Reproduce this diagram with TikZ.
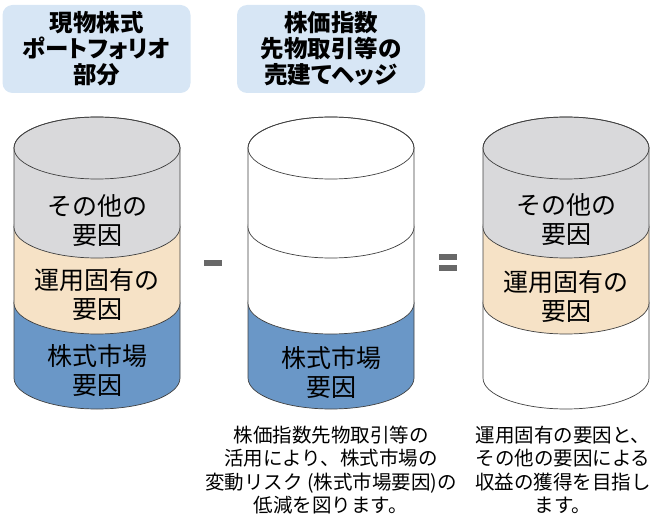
\documentclass[tikz,border=0pt]{standalone}
\usepackage{fontspec}
\setmainfont{Noto Sans CJK JP}
\newfontfamily\headfont[RawFeature=+palt]{Noto Sans CJK JP}
\definecolor{layergray}{HTML}{D9D9DB}
\definecolor{layerbeige}{HTML}{F6E2C6}
\definecolor{layerblue}{HTML}{6A97C7}
\definecolor{headblue}{HTML}{D7E6F5}
\definecolor{opgray}{HTML}{686868}
\tikzset{
  layer/.style={draw=black!75, line width=0.7pt},
  cyltext/.style={font=\fontsize{25}{29}\selectfont, align=center, inner sep=0pt},
  headbox/.style={fill=headblue, rounded corners=10pt, minimum width=188pt, minimum height=88pt, inner sep=0pt, align=center, font=\headfont\bfseries\fontsize{23.5}{26}\selectfont},
  note/.style={font=\fontsize{19.5}{23.3}\selectfont, align=center, inner sep=0pt},
  opbar/.style={fill=opgray, draw=none}
}
\newcommand\cylband[4]{% x, ytop, ybot, fill
  \path[layer, fill=#4] ({#1-83},#2) -- ({#1-83},#3)
    arc[start angle=180, end angle=360, x radius=83pt, y radius=31pt]
    -- ({#1+83},#2)
    arc[start angle=0, end angle=180, x radius=83pt, y radius=31pt] -- cycle;
}
\newcommand\cylcap[1]{%
  \draw[layer] (#1,383) ellipse[x radius=83pt, y radius=31pt];
}
\begin{document}
\begin{tikzpicture}[x=1pt,y=1pt]
\useasboundingbox (0,0) rectangle (661,531);
% headers
\node[headbox] (h1) at (96.5,482) {現物株式\\ポートフォリオ\\部分};
\node[headbox] (h2) at (331,482) {株価指数\\先物取引等の\\売建てヘッジ};
% left cylinder
\cylband{97}{228}{153}{layerblue}
\cylband{97}{304}{228}{layerbeige}
\cylband{97}{383}{304}{layergray}
\cylcap{97}
\node[cyltext] (l1) at (97,310) {その他の\\要因};
\node[cyltext] (l2) at (97,236) {運用固有の\\要因};
\node[cyltext] (l3) at (97,161) {株式市場\\要因};
% middle cylinder
\cylband{331}{228}{153}{layerblue}
\cylband{331}{304}{228}{white}
\cylband{331}{383}{304}{white}
\cylcap{331}
\node[cyltext] (m3) at (331,159) {株式市場\\要因};
% right cylinder
\cylband{566}{228}{153}{white}
\cylband{566}{304}{228}{layerbeige}
\cylband{566}{383}{304}{layergray}
\cylcap{566}
\node[cyltext] (r1) at (566,311) {その他の\\要因};
\node[cyltext] (r2) at (566,234) {運用固有の\\要因};
% operators
\path[opbar] (204,265) rectangle (222,271);
\path[opbar] (439,271) rectangle (457,277);
\path[opbar] (439,260) rectangle (457,266);
% notes
\node[note] (n1) at (331,61) {株価指数先物取引等の\\活用により、株式市場の\\変動リスク (株式市場要因)の\\低減を図ります。};
\node[note] (n2) at (563,61) {運用固有の要因と、\\その他の要因による\\収益の獲得を目指し\\ます。};
\end{tikzpicture}
\end{document}
